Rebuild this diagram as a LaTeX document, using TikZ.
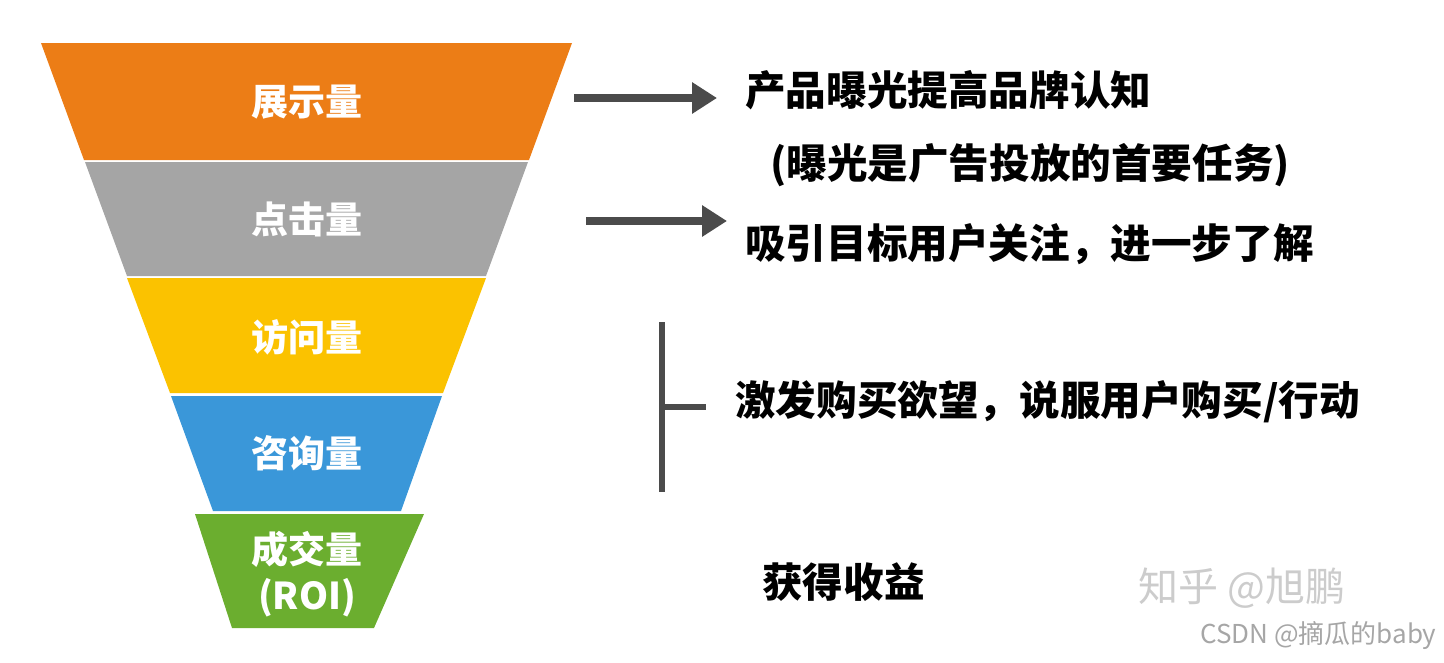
\documentclass[tikz,border=0pt]{standalone}
\usepackage{fontspec}
\setmainfont{Noto Sans CJK SC}
\usetikzlibrary{arrows.meta}
\definecolor{showorange}{HTML}{EC7D16}
\definecolor{clickgray}{HTML}{A5A5A5}
\definecolor{visityellow}{HTML}{FBC200}
\definecolor{askblue}{HTML}{3A97D9}
\definecolor{dealgreen}{HTML}{6BAE2F}
\definecolor{arrowgray}{HTML}{4B4B4B}

\begin{document}
\begin{tikzpicture}[x=1pt,y=-1pt,
  bandlabel/.style={text=white,inner sep=0pt,font=\bfseries\fontsize{37}{44}\selectfont},
  note/.style={anchor=west,inner sep=0pt,font=\bfseries\fontsize{40.6}{48}\selectfont},
  fatarrow/.style={draw=arrowgray,line width=7.5pt,-{Triangle[length=25pt,width=30pt]}},
  watermark/.style={inner sep=0pt,anchor=west}]
\path[use as bounding box] (0,0) rectangle (1444,662);
% funnel bands
\fill[showorange] (41,43) -- (572,43) -- (529,160) -- (84,160) -- cycle;
\fill[clickgray] (85,162) -- (528,162) -- (486,276) -- (127,276) -- cycle;
\fill[visityellow] (127,278) -- (486,278) -- (443,393) -- (170,393) -- cycle;
\fill[askblue] (171,396) -- (442,396) -- (401,511) -- (213,511) -- cycle;
\fill[dealgreen] (195,514) -- (424,514) -- (374,628) -- (232,628) -- cycle;
\node[bandlabel] (show) at (307,102) {展示量};
\node[bandlabel] (click) at (307,219) {点击量};
\node[bandlabel] (visit) at (307,337) {访问量};
\node[bandlabel] (ask) at (307,453) {咨询量};
\node[bandlabel] (deal) at (307,549) {成交量};
\node[bandlabel] (roi) at (307,598) {(ROI)};
% notes on the right
\node[note] (brand) at (745,90) {产品曝光提高品牌认知};
\node[note] (brandsub) at (770,165) {(曝光是广告投放的首要任务)};
\node[note] (attract) at (745,244) {吸引目标用户关注，进一步了解};
\node[note] (desire) at (735,402) {激发购买欲望，说服用户购买/行动};
\node[note] (gain) at (762,582) {获得收益};
% arrows
\coordinate (a1) at (574,98);
\coordinate (a1e) at (717,98);
\draw[fatarrow] (a1) -- (a1e);
\coordinate (a2) at (586,221);
\coordinate (a2e) at (727,221);
\draw[fatarrow] (a2) -- (a2e);
% bracket
\coordinate (btop) at (662,322);
\coordinate (bbot) at (662,492);
\coordinate (bmid) at (662,407);
\coordinate (btip) at (706,407);
\draw[arrowgray,line width=6.5pt] (btop) -- (bbot);
\draw[arrowgray,line width=5.5pt] (bmid) -- (btip);
% watermarks
\node[watermark,text=gray!40,font=\fontsize{40}{46}\selectfont] (zhihu) at (1138,588) {知乎 @旭鹏};
\node[watermark,text=gray!70,font=\fontsize{26}{30}\selectfont] (csdn) at (1200,636) {CSDN @摘瓜的baby};
\end{tikzpicture}
\end{document}
